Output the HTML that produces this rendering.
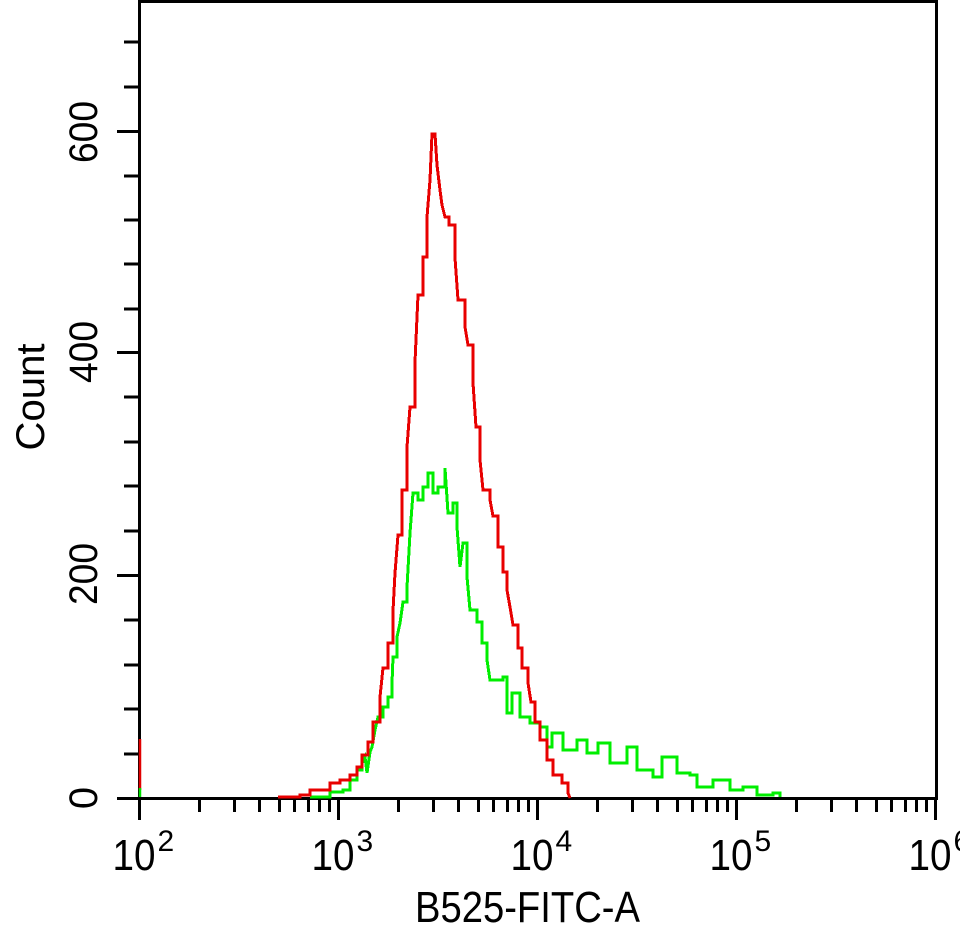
<!DOCTYPE html>
<html><head><style>html,body{margin:0;padding:0;background:#fff}svg{display:block}</style></head>
<body>
<svg width="960" height="929" viewBox="0 0 960 929" xmlns="http://www.w3.org/2000/svg" font-family="Liberation Sans, sans-serif">
<g stroke="#000" stroke-width="3" fill="none" shape-rendering="crispEdges">
<rect x="139.5" y="1.5" width="797" height="797"/>
<path d="M117 798.5H139 M117 575.5H139 M117 352.5H139 M117 131.5H139
M124 754H139 M124 709H139 M124 665H139 M124 620H139
M124 531H139 M124 486H139 M124 442H139 M124 397H139
M124 309H139 M124 264H139 M124 220H139 M124 176H139
M124 87H139 M124 42H139"/>
</g>
<g stroke="#000" stroke-width="3" shape-rendering="crispEdges" id="xt"></g>
<g fill="#000" font-size="40">
<text transform="translate(97,132) rotate(-90)" text-anchor="middle" textLength="62" lengthAdjust="spacingAndGlyphs">600</text>
<text transform="translate(97,352) rotate(-90)" text-anchor="middle" textLength="62" lengthAdjust="spacingAndGlyphs">400</text>
<text transform="translate(97,574) rotate(-90)" text-anchor="middle" textLength="62" lengthAdjust="spacingAndGlyphs">200</text>
<text transform="translate(97,798) rotate(-90)" text-anchor="middle">0</text>
<text transform="translate(44,397) rotate(-90)" text-anchor="middle" textLength="107" lengthAdjust="spacingAndGlyphs">Count</text>
<text x="415" y="922" font-size="44" textLength="225" lengthAdjust="spacingAndGlyphs">B525-FITC-A</text>
</g>
<g fill="#000" id="xl"></g>
<polyline fill="none" stroke="#e00000" stroke-width="2.5" points="140,739 140,790"/>
<polyline fill="none" stroke="#00e000" stroke-width="2.5" points="140,788 140,797"/>
<polyline id="g1" fill="none" stroke="#00ee00" stroke-width="3" shape-rendering="crispEdges" points="
310,797 330,792 343,790 350,780 357,770 362,763 365,757 367,773 370,752 372,747 375,730 378,717 383,707 388,697 392,683 393,657 397,637 400,623 403,602 407,587 410,533 413,493 418,500 423,487 428,473 433,493 438,487 445,468 448,513 453,503 457,527 460,567 463,543 467,577 470,610 477,622 482,643 487,660 490,680 497,680 503,677 507,713 512,693 520,717 530,723 540,727 547,747 552,733 563,750 577,740 587,753 598,743 610,763 627,747 637,770 653,777 662,757 677,773 690,775 697,787 713,780 730,790 743,787 757,795 773,793 780,797"/>
<polyline id="r1" fill="none" stroke="#e80000" stroke-width="3" shape-rendering="crispEdges" points="
278,797 300,795 310,790 330,783 340,780 350,775 357,767 362,755 368,742 373,722 380,697 383,668 388,643 393,611 395,573 398,535 402,490 407,447 410,407 415,362 418,295 423,257 427,217 430,180 432,134 435,134 437,165 440,190 442,205 445,217 449,225 455,233 455,258 458,300 465,327 468,345 473,383 476,427 480,460 483,490 490,500 493,516 498,547 503,572 507,590 510,607 513,625 518,648 522,668 528,683 531,702 535,722 540,740 547,760 553,775 562,783 568,793 570,798"/>
</svg>
<script>
(function(){
var ns="http://www.w3.org/2000/svg";
var g=document.getElementById('xt'),l=document.getElementById('xl');
var x0=139.5,d=199;
var p="";
for(var k=0;k<=4;k++){var b=x0+k*d;p+="M"+b+" 798V820 ";
 if(k<4)for(var m=2;m<=9;m++){var x=Math.round(b+Math.log10(m)*d)+0.5;p+="M"+x+" 798V812 ";}}
var path=document.createElementNS(ns,'path');path.setAttribute('d',p);g.appendChild(path);
for(var k=0;k<=4;k++){var b=x0+k*d;
 var t=document.createElementNS(ns,'text');t.setAttribute('x',b-27);t.setAttribute('y',870);t.setAttribute('font-size','44');
 t.setAttribute('textLength','43');t.setAttribute('lengthAdjust','spacingAndGlyphs');t.textContent='10';l.appendChild(t);
 var s=document.createElementNS(ns,'text');s.setAttribute('x',b+18);s.setAttribute('y',851);s.setAttribute('font-size','30');s.textContent=String(k+2);l.appendChild(s);}
['g1','r1'].forEach(function(id){
 var el=document.getElementById(id);
 var pts=el.getAttribute('points').trim().split(/\s+/).map(function(s){return s.split(',').map(Number);});
 var out=[pts[0]];
 for(var i=1;i<pts.length;i++){var a=pts[i-1],c=pts[i];
  if(c[0]-a[0]>3){out.push([c[0],a[1]]);}
  out.push(c);}
 el.setAttribute('points',out.map(function(q){return q.join(',');}).join(' '));
});
})();
</script>
</body></html>
